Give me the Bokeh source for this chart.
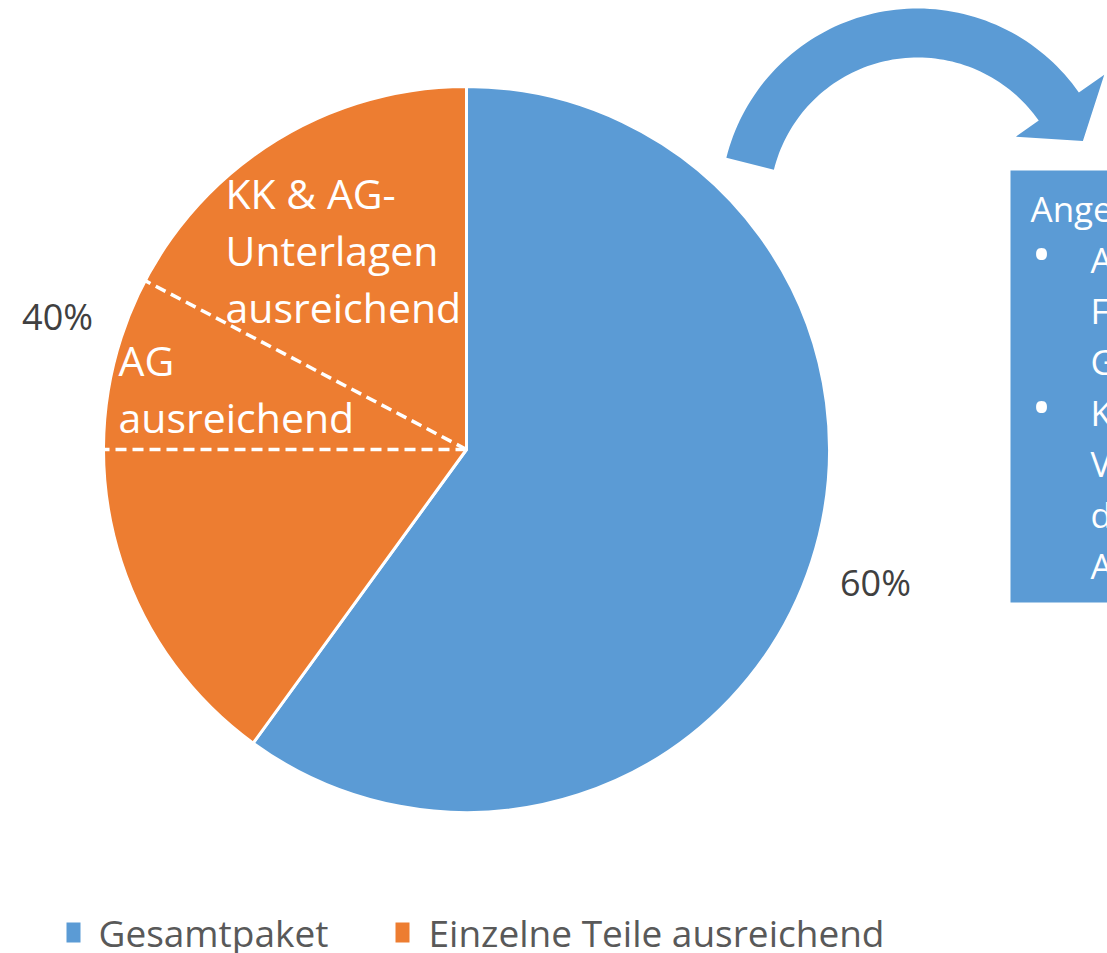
import numpy as np
from bokeh.plotting import figure
from bokeh.models import Range1d
from bokeh.core.properties import value
from bokeh.embed import file_html
from bokeh.resources import INLINE

# ---------------- data ----------------
categories = ["Gesamtpaket", "Einzelne Teile ausreichend"]
shares = [60, 40]
colors = ["#5B9BD5", "#ED7D31"]
pct_labels = ["60%", "40%"]

# subdivision of the orange slice (clockwise, after the blue slice)
sub_shares = [15, 7.7, 17.3]
sub_labels = [[], ["AG", "ausreichend"], ["KK & AG-", "Unterlagen", "ausreichend"]]

box_lines = ["Ange", "A", "F", "G", "K", "V", "d", "A"]
box_bullets = [False, True, False, False, True, False, False, False]

FONT = value("Open Sans")

# ---------------- figure ----------------
W, H = 1107, 953
p = figure(width=W, height=H, x_range=Range1d(0, W), y_range=Range1d(-H, 0),
           output_backend="svg", toolbar_location=None, min_border=0,
           x_axis_type=None, y_axis_type=None)
p.xgrid.visible = False
p.ygrid.visible = False
p.outline_line_color = None
p.background_fill_color = "white"


def Y(y):
    return -y


def YB(y, size):
    # baseline correction for rendered alphabetic baseline
    return -(y - 0.3 * size)


# ---------------- pie ----------------
cx, cy, R = 466, Y(449), 363
total = float(sum(shares))


def ang(frac):
    return np.pi / 2 - 2 * np.pi * frac


cum = np.concatenate([[0], np.cumsum(shares)]) / total
starts = [ang(c) for c in cum[:-1]]
ends = [ang(c) for c in cum[1:]]
p.wedge(x=cx, y=cy, radius=R, start_angle=starts, end_angle=ends, direction="clock",
        fill_color=colors, line_color="white", line_width=3)

# dashed dividers inside the orange slice
sub_cum = (shares[0] + np.cumsum(sub_shares)) / total
div = [ang(c) for c in sub_cum[:-1]]
p.segment(x0=[cx] * len(div), y0=[cy] * len(div),
          x1=[cx + R * np.cos(a) for a in div], y1=[cy + R * np.sin(a) for a in div],
          line_color="white", line_width=3.5, line_dash="11 6")

# percentage labels outside
mids = [ang((a + b) / 2) for a, b in zip(cum[:-1], cum[1:])]
rl = 430
p.text(x=[cx + rl * np.cos(a) for a in mids], y=[cy + rl * np.sin(a) for a in mids],
       text=pct_labels, text_align="center", text_baseline="middle",
       text_font=FONT, text_font_size="36px", text_color="#404040")

# labels inside orange sub-slices (layout anchors: left x, first baseline)
anchors = [None, (118, 372), (225, 205)]
lh = 57
LS = 41
for lab, anc in zip(sub_labels, anchors):
    if not lab:
        continue
    xs = [anc[0]] * len(lab)
    ys = [YB(anc[1] + i * lh, LS) for i in range(len(lab))]
    p.text(x=xs, y=ys, text=lab, text_align="left", text_baseline="alphabetic",
           text_font=FONT, text_font_size=f"{LS}px", text_color="white")

# ---------------- curved arrow ----------------
acx, acy = 917, 205
r_out, r_in = 197, 148
th0, th1 = np.deg2rad(166), np.deg2rad(35)
t = np.linspace(th0, th1, 80)
outer = [(acx + r_out * np.cos(a), acy - r_out * np.sin(a)) for a in t]
inner = [(acx + r_in * np.cos(a), acy - r_in * np.sin(a)) for a in t[::-1]]
rm = (r_out + r_in) / 2
tan = np.array([np.sin(th1), np.cos(th1)])
base_mid = np.array([acx + rm * np.cos(th1), acy - rm * np.sin(th1)])
tip = base_mid + 42 * tan
barb_out = (acx + 228 * np.cos(th1), acy - 228 * np.sin(th1))
barb_in = (acx + 120 * np.cos(th1), acy - 120 * np.sin(th1))
pts = outer + [barb_out, tuple(tip), barb_in] + inner
p.patch(x=[q[0] for q in pts], y=[Y(q[1]) for q in pts], fill_color="#5B9BD5", line_color=None)

# ---------------- text box ----------------
BS = 35
p.quad(left=1010, right=1200, top=Y(170), bottom=Y(602), fill_color="#5B9BD5", line_color=None)
base0, step = 218, 51.1
bys = [YB(base0 + i * step, BS) for i in range(len(box_lines))]
bxs = [1030 if i == 0 else 1090 for i in range(len(box_lines))]
p.text(x=bxs, y=bys, text=box_lines, text_align="left", text_baseline="alphabetic",
       text_font=FONT, text_font_size=f"{BS}px", text_color="white")
bul_y = [y + 7 for y, b in zip(bys, box_bullets) if b]
p.text(x=[1041] * len(bul_y), y=bul_y, text=["•"] * len(bul_y), text_align="center",
       text_baseline="alphabetic", text_font=FONT, text_font_size="52px", text_color="white")

# ---------------- legend ----------------
GS = 37
leg_sq_x = [73, 402]
leg_tx_x = [98, 428]
p.rect(x=leg_sq_x, y=[Y(932)] * 2, width=14, height=20, fill_color=colors, line_color=None)
p.text(x=leg_tx_x, y=[YB(943, GS)] * 2, text=categories, text_align="left", text_baseline="alphabetic",
       text_font=FONT, text_font_size=f"{GS}px", text_color="#595959")

open("out.html", "w").write(file_html(p, INLINE))
